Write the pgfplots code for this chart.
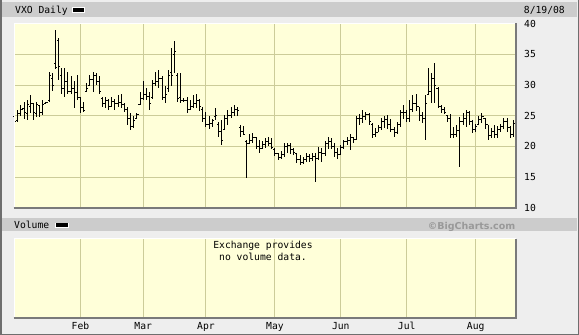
\documentclass[border=0pt]{standalone}
\usepackage{pgfplots}
\pgfplotsset{compat=1.18}
\usepackage{pgfplotstable}
\usepackage{fontspec}
\setmainfont{DejaVu Sans Mono}
\newfontfamily\monof{DejaVu Sans Mono}
\newfontfamily\logof{DejaVu Sans}
\newcommand\lab{\fontsize{9.7}{10}\selectfont\monof}
\definecolor{bgc}{HTML}{EEEEEE}
\definecolor{bandc}{HTML}{CCCCCC}
\definecolor{plotbg}{HTML}{FFFFD9}
\definecolor{gridc}{HTML}{CCCC99}
\definecolor{edgec}{HTML}{7A7A7A}
\definecolor{logoc}{HTML}{999999}
\definecolor{framec}{HTML}{6E6E6E}
\pgfdeclareplotmark{ctick}{\pgfpathmoveto{\pgfqpoint{0pt}{0pt}}\pgfpathlineto{\pgfqpoint{1.6pt}{0pt}}\pgfusepathqstroke}
\pgfdeclareplotmark{otick}{\pgfpathmoveto{\pgfqpoint{0pt}{0pt}}\pgfpathlineto{\pgfqpoint{-1.6pt}{0pt}}\pgfusepathqstroke}

\pgfplotstableread{
i o h l c
0 24.8 25.9 23.6 24.0
1 24.2 26.0 24.0 25.3
2 25.3 26.8 25.0 26.0
3 26.2 27.3 24.5 25.5
4 25.3 27.6 24.3 26.8
5 26.5 28.3 25.5 27.0
6 27.0 27.0 24.3 25.6
7 25.4 27.3 24.8 26.8
8 26.6 26.7 24.8 25.6
9 25.6 27.6 25.1 26.8
10 27.0 27.3 26.9 27.1
11 27.5 32.2 27.3 31.6
12 31.0 32.0 29.0 30.0
13 33.5 39.0 32.6 32.8
14 37.2 37.7 30.9 33.0
15 31.5 32.7 28.6 29.5
16 29.5 32.7 28.1 30.5
17 30.5 32.2 28.6 29.0
18 29.0 31.4 28.6 29.5
19 29.5 30.6 26.3 28.8
20 28.8 31.7 27.6 28.0
21 28.0 28.1 25.4 26.3
22 26.3 27.3 25.6 25.8
23 29.0 30.3 28.9 29.5
24 30.0 31.6 30.0 30.9
25 30.9 32.2 28.9 31.6
26 31.6 31.9 30.0 30.5
27 30.5 31.4 28.6 29.0
28 27.8 28.1 26.4 27.0
29 27.0 28.0 26.3 27.5
30 27.5 27.8 26.0 26.5
31 26.5 28.0 26.4 27.3
32 27.3 27.8 26.0 27.0
33 27.0 28.3 26.5 27.2
34 27.2 28.6 26.2 26.8
35 26.8 27.0 25.6 26.0
36 26.0 26.5 23.5 24.5
37 24.5 25.4 22.7 23.3
38 23.3 25.0 23.0 24.2
39 24.6 25.5 24.6 25.2
40 26.8 28.9 26.7 27.8
41 27.8 30.6 27.6 28.5
42 28.5 29.5 27.5 28.2
43 28.2 28.9 25.9 27.0
44 28.0 30.9 27.8 30.3
45 30.3 32.2 29.8 30.5
46 30.5 32.5 29.5 31.0
47 31.0 31.5 27.5 28.0
48 28.0 29.8 27.0 28.5
49 29.5 32.5 28.9 31.5
50 32.0 36.0 29.8 31.5
51 35.0 37.2 32.0 35.5
52 31.5 31.9 27.3 27.8
53 28.0 31.9 27.0 27.5
54 27.5 27.9 27.3 27.5
55 27.5 28.1 25.4 26.0
56 26.0 27.5 25.9 26.5
57 26.5 28.3 26.3 27.0
58 27.0 28.6 26.2 27.5
59 27.5 27.8 25.8 26.5
60 26.0 26.5 24.0 24.5
61 24.5 25.6 23.2 23.5
62 23.5 24.9 22.8 23.8
63 23.8 24.5 23.2 24.2
64 24.8 26.2 24.3 25.0
65 23.5 24.0 21.6 22.5
66 22.5 24.3 20.2 21.0
67 22.8 25.1 22.7 24.5
68 24.5 26.0 23.5 25.0
69 25.0 26.5 24.6 25.5
70 25.5 26.8 24.9 26.0
71 26.0 26.5 25.0 25.8
72 23.0 23.5 21.6 22.5
73 22.5 23.3 21.8 22.0
74 20.8 21.0 14.9 20.5
75 20.5 22.0 20.5 21.0
76 21.0 22.1 20.6 21.5
77 21.5 21.6 19.5 20.0
78 20.0 21.0 18.9 19.6
79 19.6 20.8 19.5 20.3
80 20.3 21.3 19.8 20.8
81 20.8 21.5 20.0 20.5
82 20.5 21.3 19.5 19.8
83 19.5 19.7 18.5 18.8
84 18.8 19.0 17.8 18.2
85 18.2 19.2 18.0 18.6
86 18.6 20.5 18.3 20.0
87 20.0 20.6 19.0 20.2
88 20.2 20.5 18.8 19.5
89 19.5 19.8 18.6 19.0
90 18.9 18.9 17.3 17.8
91 17.8 18.6 17.0 17.4
92 17.4 18.2 17.2 17.8
93 17.8 18.9 17.4 18.3
94 18.3 18.8 17.5 18.0
95 18.0 19.0 17.6 18.4
96 18.4 19.0 14.2 18.0
97 18.0 19.9 17.8 19.0
98 19.0 19.7 17.5 18.8
99 18.8 20.9 18.5 20.5
100 20.5 21.6 19.5 20.8
101 20.8 21.4 19.6 20.0
102 20.0 20.5 18.3 19.0
103 19.0 19.7 18.0 18.6
104 18.6 20.3 18.6 19.8
105 19.8 21.0 19.5 20.8
106 20.8 21.6 20.2 21.0
107 21.0 22.0 19.4 21.5
108 21.5 21.6 20.5 21.2
109 21.2 24.9 21.0 24.5
110 24.5 25.3 23.5 24.5
111 24.5 25.9 23.8 24.8
112 24.8 25.6 24.3 25.2
113 25.2 25.4 23.5 24.0
114 23.5 23.8 21.3 22.0
115 22.0 23.0 21.5 22.3
116 22.3 23.5 22.3 23.0
117 23.0 24.6 22.7 24.0
118 24.0 24.9 23.0 24.3
119 24.3 25.1 22.8 23.6
120 23.6 24.5 22.3 22.7
121 22.7 23.2 21.6 22.2
122 22.2 24.0 22.0 23.5
123 23.5 26.0 23.2 25.5
124 25.5 26.8 24.5 25.5
125 25.5 26.0 24.0 24.5
126 24.5 27.5 24.0 26.0
127 26.0 28.4 25.6 27.0
128 27.0 28.6 25.7 26.5
129 26.5 26.5 24.2 25.0
130 25.0 25.6 23.8 24.5
131 24.5 28.4 21.0 27.0
132 28.5 32.7 28.4 29.0
133 29.0 32.0 27.0 31.0
134 31.0 33.6 27.0 30.0
135 29.5 29.7 26.2 26.5
136 26.5 26.8 25.4 26.0
137 26.0 26.5 25.2 25.6
138 25.0 25.1 24.0 24.5
139 24.5 25.2 21.3 22.0
140 22.0 23.2 21.3 22.0
141 22.0 23.5 21.6 22.6
142 22.6 24.8 16.7 24.0
143 24.0 25.5 23.5 24.5
144 24.5 25.9 23.2 25.5
145 25.5 25.7 23.5 24.0
146 24.0 24.3 22.1 22.8
147 22.8 23.6 22.3 23.2
148 23.6 25.0 23.6 24.3
149 24.3 25.4 23.8 24.8
150 24.6 24.6 22.8 23.5
151 23.5 23.5 21.1 21.8
152 21.8 23.0 21.3 22.5
153 22.5 23.5 21.3 22.0
154 22.0 23.3 21.3 22.8
155 22.8 23.6 22.3 23.2
156 23.2 24.6 22.8 24.0
157 24.0 24.6 22.3 23.0
158 23.0 23.3 21.4 22.0
159 22.0 24.3 21.5 23.8
}\vxo

\begin{document}
\begin{tikzpicture}[x=1pt,y=1pt]
\useasboundingbox (0,0) rectangle (579,-335);
\fill[bgc] (0,0) rectangle (579,-335);
% header bands
\fill[bandc] (1.5,-1.5) rectangle (576.5,-16.7);
\fill[bandc] (1.5,-217.7) rectangle (576.5,-230.7);

% price panel
\begin{axis}[at={(14pt,-207.7pt)}, anchor=south west, scale only axis,
  width=501.5pt, height=184pt,
  xmin=-0.2, xmax=159.7, ymin=10, ymax=40,
  axis background/.style={fill=plotbg},
  axis line style={draw=none},
  xtick={21,41,61,83,104,125,147}, xticklabels={},
  ytick={10,15,20,25,30,35,40},
  yticklabel pos=right,
  /pgf/number format/assume math mode=true,
  yticklabel style={font=\lab, anchor=west, inner sep=0pt, xshift=8.5pt},
  major tick length=0pt,
  grid=major, major grid style={gridc, line width=1pt},
  clip=false]
\addplot[only marks, mark=ctick, black, mark options={line width=1pt, black},
  error bars/.cd, y dir=both, y explicit, error mark=none,
  error bar style={line width=1pt, black}]
  table[x=i, y=c, y error plus expr=\thisrow{h}-\thisrow{c},
        y error minus expr=\thisrow{c}-\thisrow{l}] {\vxo};
\addplot[only marks, mark=otick, black, mark options={line width=1pt, black}]
  table[x=i, y=o] {\vxo};
\end{axis}
\draw[white, line width=1pt] (14,-207.7) -- (14,-23.2) -- (515.5,-23.2);
\draw[edgec, line width=1.5pt] (13.5,-208.2) -- (515.8,-208.2) -- (515.8,-23);

% volume panel
\begin{axis}[at={(14pt,-317.3pt)}, anchor=south west, scale only axis,
  width=501.5pt, height=79pt,
  xmin=-0.2, xmax=159.7, ymin=0, ymax=1,
  axis background/.style={fill=plotbg},
  axis line style={draw=none},
  xtick={21,41,61,83,104,125,147},
  xticklabels={Feb,Mar,Apr,May,Jun,Jul,Aug},
  xticklabel style={font=\lab, anchor=north, inner sep=0pt, yshift=-4.5pt},
  ytick=\empty,
  major tick length=0pt,
  xmajorgrids, major grid style={gridc, line width=1pt}]
\end{axis}
\draw[white, line width=1pt] (14,-317.3) -- (14,-238.8) -- (515.5,-238.8);
\draw[edgec, line width=1.5pt] (13.5,-317.8) -- (515.8,-317.8) -- (515.8,-238.5);

% texts
\node[font=\lab, anchor=base west, inner sep=0pt] at (15,-13.3) {VXO Daily};
\fill[white] (72,-7) rectangle (85,-12.5);
\fill[black] (73,-8) rectangle (84,-11.5);
\node[font=\lab, anchor=base east, inner sep=0pt] at (565,-13.3) {8/19/08};
\node[font=\lab, anchor=base west, inner sep=0pt] at (14,-228.5) {Volume};
\fill[white] (54.5,-222.5) rectangle (68.5,-227.5);
\fill[black] (55.5,-223.3) rectangle (67.5,-226.7);
\node[font=\fontsize{9.5}{10}\selectfont\logof\bfseries, text=logoc, anchor=base east, inner sep=0pt] at (515.5,-229) {©BigCharts.com};
\node[font=\lab, align=center, inner sep=0pt, anchor=base] at (263,-260.5) {Exchange provides\\[2.5pt]no volume data.};

% outer frame
\draw[framec, line width=1.5pt] (0.75,0) -- (0.75,-334.25) -- (578.25,-334.25) -- (578.25,0);
\end{tikzpicture}
\end{document}
